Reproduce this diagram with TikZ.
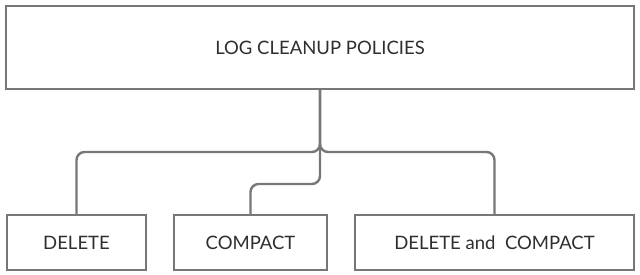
\documentclass[tikz,border=0pt]{standalone}
\usepackage{fontspec}
\setmainfont{Lato}
\definecolor{linegray}{HTML}{777777}
\definecolor{textgray}{HTML}{2E2E2E}
\begin{document}
\begin{tikzpicture}[x=1pt,y=-1pt,
  box/.style={draw=linegray,line width=2.4pt,rectangle,inner sep=0pt,text=textgray,font=\fontsize{18.5}{22}\selectfont},
  conn/.style={draw=linegray,line width=2.4pt,rounded corners=8pt}]
\useasboundingbox (0,0) rectangle (640,275);
\node[box,minimum width=628,minimum height=83] (top) at (320,47.5) {LOG CLEANUP POLICIES};
\node[box,minimum width=139,minimum height=55] (del) at (76.5,242.5) {DELETE};
\node[box,minimum width=153,minimum height=55] (comp) at (250.5,242.5) {COMPACT};
\node[box,minimum width=279,minimum height=55] (dc) at (494.5,242.5) {DELETE and\ \ COMPACT};
\coordinate (j) at (320,152);
\coordinate (k) at (320,184);
\draw[conn] (top.south) -- (j) -- (j -| del.north) -- (del.north);
\draw[conn] (top.south) -- (j) -- (j -| dc.north) -- (dc.north);
\draw[conn] (top.south) -- (k) -- (k -| comp.north) -- (comp.north);
\end{tikzpicture}
\end{document}
